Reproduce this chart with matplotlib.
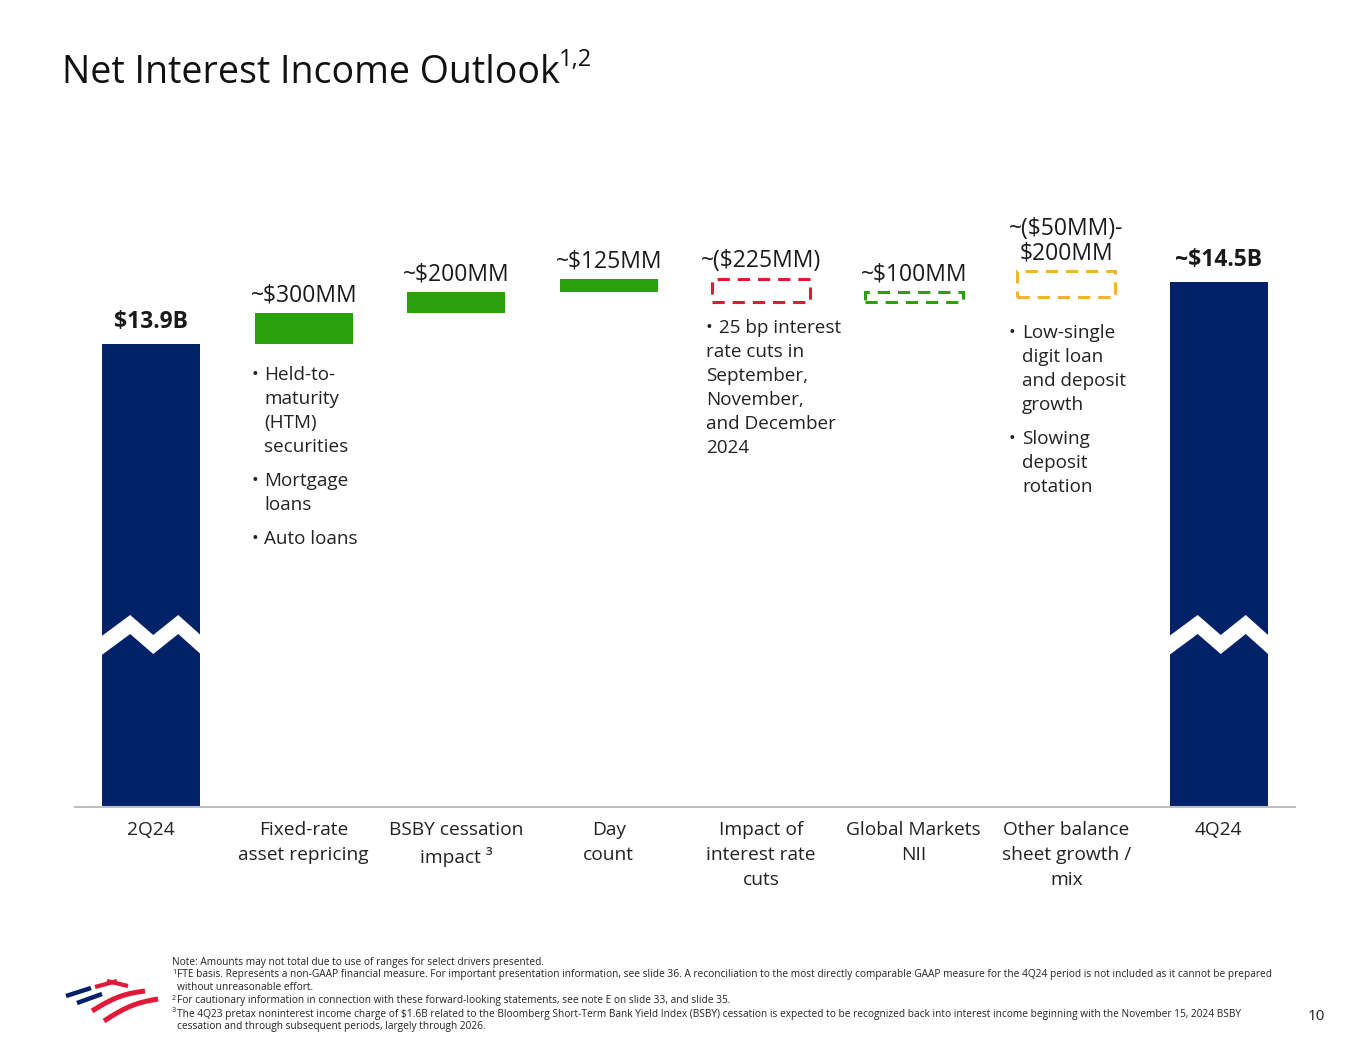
import numpy as np
import matplotlib.pyplot as plt
from matplotlib.patches import Polygon

W, H = 1365, 1055

# ---- data ($B) ----
categories = ["2Q24", "Fixed-rate\nasset repricing", "BSBY cessation\nimpact \u00b3", "Day\ncount",
              "Impact of\ninterest rate\ncuts", "Global Markets\nNII", "Other balance\nsheet growth /\nmix", "4Q24"]
start_nii = 13.9
end_nii = 14.5
step_names = ["Fixed-rate", "BSBY", "Day count", "Rate cuts", "Global Markets"]
step_values = [0.300, 0.200, 0.125, -0.225, 0.100]
step_kind = ["solid", "solid", "solid", "dashed", "dashed"]
other_range = (-0.050, 0.200)
value_labels = ["$13.9B", "~$300MM", "~$200MM", "~$125MM", "~($225MM)", "~$100MM",
                "~($50MM)-\n$200MM", "~$14.5B"]

NAVY = "#012169"
GREEN = "#2AA00B"
RED = "#E31837"
AMBER = "#F5B22C"
step_colors = [GREEN, GREEN, GREEN, RED, GREEN]

FONT = ["Open Sans", "DejaVu Sans"]
plt.rcParams["font.family"] = FONT


def fx(x):
    return x / W


def fy(y):
    return 1 - y / H


fig = plt.figure(figsize=(W / 100, H / 100), dpi=100)
fig.patch.set_facecolor("white")

# main axes: baseline at y=807px, 104 px per $B
ax_top, ax_bot = 200, 807
scale = 104.0
base = start_nii - (ax_bot - 344) / scale
ax = fig.add_axes([fx(75), fy(ax_bot), fx(1295 - 75), (ax_bot - ax_top) / H])
ax.set_xlim(-0.5, 7.5)
ax.set_ylim(base, base + (ax_bot - ax_top) / scale)
for s in ["top", "right", "left"]:
    ax.spines[s].set_visible(False)
ax.spines["bottom"].set_color("#BFBFBF")
ax.spines["bottom"].set_linewidth(1.5)
ax.set_yticks([])

x = np.arange(len(categories))
bw = 0.64

# totals
ax.bar([x[0], x[-1]], [start_nii - base, end_nii - base], bottom=base, width=bw, color=NAVY, zorder=2)

# steps
level = start_nii
tops = [start_nii]
for i, (v, kind, c) in enumerate(zip(step_values, step_kind, step_colors)):
    lo, hi = sorted([level, level + v])
    if kind == "solid":
        ax.bar(x[i + 1], hi - lo, bottom=lo, width=bw, color=c, zorder=2)
    else:
        ax.bar(x[i + 1], hi - lo, bottom=lo, width=bw, fill=False, edgecolor=c,
               linewidth=2.2, linestyle=(0, (4, 2.6)), zorder=2)
    level += v
    tops.append(max(lo, hi))
lo, hi = level + other_range[0], level + other_range[1]
ax.bar(x[6], hi - lo, bottom=lo, width=bw, fill=False, edgecolor=AMBER,
       linewidth=2.2, linestyle=(0, (4, 2.6)), zorder=2)
tops.append(hi)
tops.append(end_nii)

# value labels
for i, (lab, t) in enumerate(zip(value_labels, tops)):
    bold = i in (0, 7)
    ax.annotate(lab, (x[i], t), xytext=(0, 7 if bold else 4), textcoords="offset points",
                ha="center", va="bottom", fontsize=16.5, linespacing=1.05,
                fontweight="bold" if bold else "normal", color="#1a1a1a")

# axis break on total bars
def px_to_data(p):
    return base + (ax_bot - p) / scale

offs = np.array([-0.36, -0.138, 0.013, 0.177, 0.36])
upper = np.array([640, 615, 635, 615, 640])
lower = upper + 19
for xc in (x[0], x[-1]):
    xs = np.concatenate([xc + offs, (xc + offs)[::-1]])
    ys = np.concatenate([px_to_data(upper), px_to_data(lower)[::-1]])
    ax.add_patch(Polygon(np.column_stack([xs, ys]), closed=True, facecolor="white",
                         edgecolor="none", zorder=3))

# category labels
ax.set_xticks(x)
ax.set_xticklabels(categories, fontsize=13.8, color="#222222")
for lbl in ax.get_xticklabels():
    lbl.set_linespacing(1.5)
ax.tick_params(axis="x", length=0, pad=10)

# bullet notes
def bullets(xb, xt, ytop, paras, xcont=None):
    y = ytop
    for para in paras:
        fig.text(fx(xb), fy(y), "\u2022", fontsize=13, ha="left", va="center", color="#222222")
        for j, line in enumerate(para):
            xx = xt if (j == 0 or xcont is None) else xcont
            fig.text(fx(xx), fy(y), line, fontsize=13.6, ha="left", va="center", color="#222222")
            y += 24
        y += 10

bullets(251, 264, 375, [["Held-to-", "maturity", "(HTM)", "securities"], ["Mortgage", "loans"], ["Auto loans"]])
bullets(705, 719, 328, [["25 bp interest", "rate cuts in", "September,", "November,", "and December", "2024"]], xcont=706)
bullets(1009, 1022, 333, [["Low-single", "digit loan", "and deposit", "growth"], ["Slowing", "deposit", "rotation"]])

# title
title = fig.text(fx(62), fy(73), "Net Interest Income Outlook", fontsize=27, ha="left", va="center", color="#111111")
fig.canvas.draw()
bb = title.get_window_extent(fig.canvas.get_renderer())
fig.text(bb.x1 / W - 1 / W, fy(60), "1,2", fontsize=17, ha="left", va="center", color="#111111")

# footnotes
foot = [
    (172, 963, "", "Note: Amounts may not total due to use of ranges for select drivers presented."),
    (172, 975, "1", "FTE basis. Represents a non-GAAP financial measure. For important presentation information, see slide 36. A reconciliation to the most directly comparable GAAP measure for the 4Q24 period is not included as it cannot be prepared"),
    (172, 988, "", "without unreasonable effort."),
    (172, 1001, "2", "For cautionary information in connection with these forward-looking statements, see note E on slide 33, and slide 35."),
    (172, 1014, "3", "The 4Q23 pretax noninterest income charge of $1.6B related to the Bloomberg Short-Term Bank Yield Index (BSBY) cessation is expected to be recognized back into interest income beginning with the November 15, 2024 BSBY"),
    (172, 1027, "", "cessation and through subsequent periods, largely through 2026."),
]
for i, (xx, yy, sup, txt) in enumerate(foot):
    tx = xx if i == 0 else xx + 5
    if sup:
        fig.text(fx(xx), fy(yy - 3), sup, fontsize=5.2, ha="left", va="center", color="#222222")
    fig.text(fx(tx), fy(yy), txt, fontsize=7.25, ha="left", va="center", color="#222222")

fig.text(fx(1316), fy(1016), "10", fontsize=11, ha="center", va="center", color="#222222")

# logo
lax = fig.add_axes([fx(60), fy(1030), fx(105), 60 / H])
lax.set_xlim(60, 165)
lax.set_ylim(1030, 970)
lax.axis("off")
lax.plot([66, 91], [996, 988], color=NAVY, lw=3.2, solid_capstyle="butt")
lax.plot([77, 102], [1003, 994], color=NAVY, lw=3.2, solid_capstyle="butt")
lax.plot([95, 117], [987, 981], color=RED, lw=3.0, solid_capstyle="butt")
lax.plot([107, 128], [981, 986], color=RED, lw=3.0, solid_capstyle="butt")
t = np.linspace(0, 1, 20)
lax.plot(92 + 53 * t, 1011 - 20 * t - 4 * np.sin(np.pi * t), color=RED, lw=3.6, solid_capstyle="butt")
lax.plot(104 + 54 * t, 1021 - 22 * t - 4 * np.sin(np.pi * t), color=RED, lw=3.6, solid_capstyle="butt")

fig.savefig("out.png", dpi=100, facecolor="white")
